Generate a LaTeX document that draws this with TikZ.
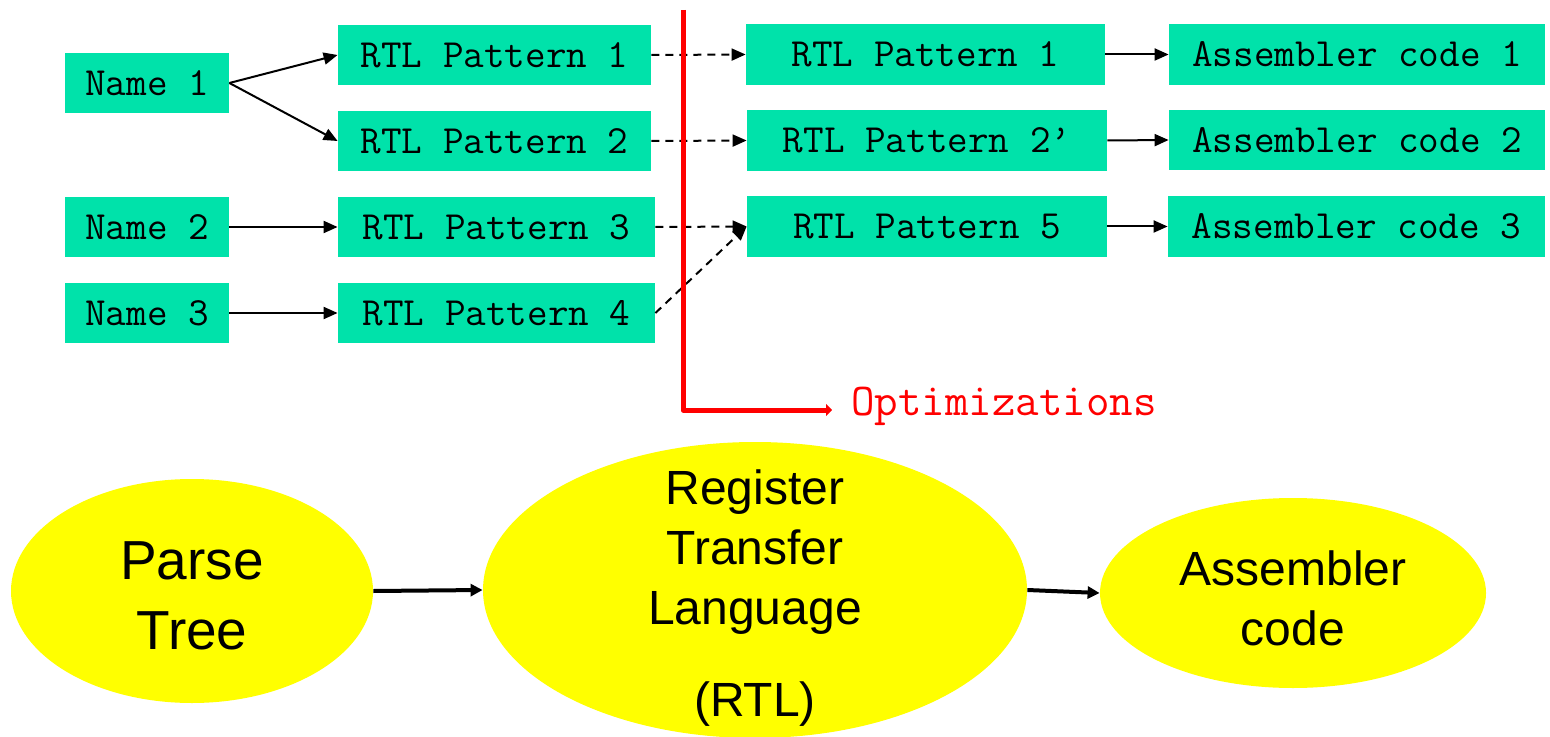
\documentclass[tikz,border=0pt]{standalone}
\usepackage{fontspec}
\setsansfont{Liberation Sans}
\usetikzlibrary{shapes.geometric,arrows.meta}
\definecolor{boxteal}{RGB}{0,226,170}
\definecolor{ellyellow}{RGB}{255,255,0}
\definecolor{optred}{RGB}{255,0,0}
\begin{document}
\begin{tikzpicture}[x=0.5pt,y=-0.5pt,
  tbox/.style={fill=boxteal,draw=none,inner sep=0pt,minimum height=30pt,
     font=\fontsize{20}{22}\ttfamily},
  ell/.style={ellipse,fill=ellyellow,draw=none,inner sep=0pt},
  elltext/.style={inner sep=0pt,align=center},
  solidarr/.style={line width=1pt,-{Triangle[length=7pt,width=6pt]}},
  dasharr/.style={line width=1pt,dash pattern=on 4pt off 3pt,-{Triangle[length=7pt,width=6pt]}},
  bigarr/.style={line width=2pt,-{Triangle[length=6pt,width=6pt]}}
]
\useasboundingbox (0,0) rectangle (1550,737);
% left names
\node[tbox,minimum width=82pt] (n1) at (147,83) {Name 1};
\node[tbox,minimum width=82pt] (n2) at (147,227) {Name 2};
\node[tbox,minimum width=82pt] (n3) at (147,313) {Name 3};
% left patterns
\node[tbox,minimum width=156.5pt] (lp1) at (494.5,55) {RTL Pattern 1};
\node[tbox,minimum width=156.5pt] (lp2) at (494.5,141) {RTL Pattern 2};
\node[tbox,minimum width=158.5pt] (lp3) at (496.5,227) {RTL Pattern 3};
\node[tbox,minimum width=158.5pt] (lp4) at (496.5,313) {RTL Pattern 4};
% right patterns
\node[tbox,minimum width=179.5pt,minimum height=30.5pt] (rp1) at (925.5,54.5) {RTL Pattern 1};
\node[tbox,minimum width=180pt,minimum height=30.5pt] (rp2) at (927,140.5) {RTL Pattern 2’};
\node[tbox,minimum width=180pt,minimum height=30.5pt] (rp5) at (927,226.5) {RTL Pattern 5};
% assembler codes
\node[tbox,minimum width=188pt,minimum height=30.5pt] (a1) at (1357,54.5) {Assembler code 1};
\node[tbox,minimum width=188pt] (a2) at (1357,140) {Assembler code 2};
\node[tbox,minimum width=188.5pt,minimum height=30.5pt] (a3) at (1356.5,226.5) {Assembler code 3};
% connectors
\draw[solidarr] (n1.east) -- (lp1.west);
\draw[solidarr] (n1.east) -- (lp2.west);
\draw[solidarr] (n2.east) -- (lp3.west);
\draw[solidarr] (n3.east) -- (lp4.west);
\draw[dasharr] (lp1.east) -- (rp1.west);
\draw[dasharr] (lp2.east) -- (rp2.west);
\draw[dasharr] (lp3.east) -- (rp5.west);
\draw[dasharr] (lp4.east) -- (rp5.west);
\draw[solidarr] (rp1.east) -- (a1.west);
\draw[solidarr] (rp2.east) -- (a2.west);
\draw[solidarr] (rp5.east) -- (a3.west);
% red optimization line
\coordinate (rtop) at (683,10);
\coordinate (rcorner) at (683,410);
\coordinate (rend) at (832,410);
\node[anchor=west,inner sep=0pt,text=optred,font=\fontsize{22.8}{26}\ttfamily] (opt) at (851,406) {Optimizations};
\draw[optred,line width=2.5pt,line join=round,-{Triangle[length=3pt,width=6pt]}] (rtop) -- (rcorner) -- (rend);
% ellipses
\node[ell,minimum width=181pt,minimum height=112pt] (pt) at (192,591) {};
\node[elltext,font=\fontsize{27.5}{35}\sffamily] (pttext) at (192,596) {Parse\\Tree};
\node[ell,minimum width=272pt,minimum height=148pt] (rtl) at (755,590) {};
\node[elltext,font=\fontsize{24}{30}\sffamily] (rtltext) at (755,598) {Register\\Transfer\\Language\\[16pt](RTL)};
\node[ell,minimum width=193pt,minimum height=95pt] (asm) at (1293,593) {};
\node[elltext,font=\fontsize{24}{30}\sffamily] (asmtext) at (1293,598) {Assembler\\code};
\draw[bigarr] (pt.east) -- (rtl.west);
\draw[bigarr] (rtl.east) -- (asm.west);
\end{tikzpicture}
\end{document}
